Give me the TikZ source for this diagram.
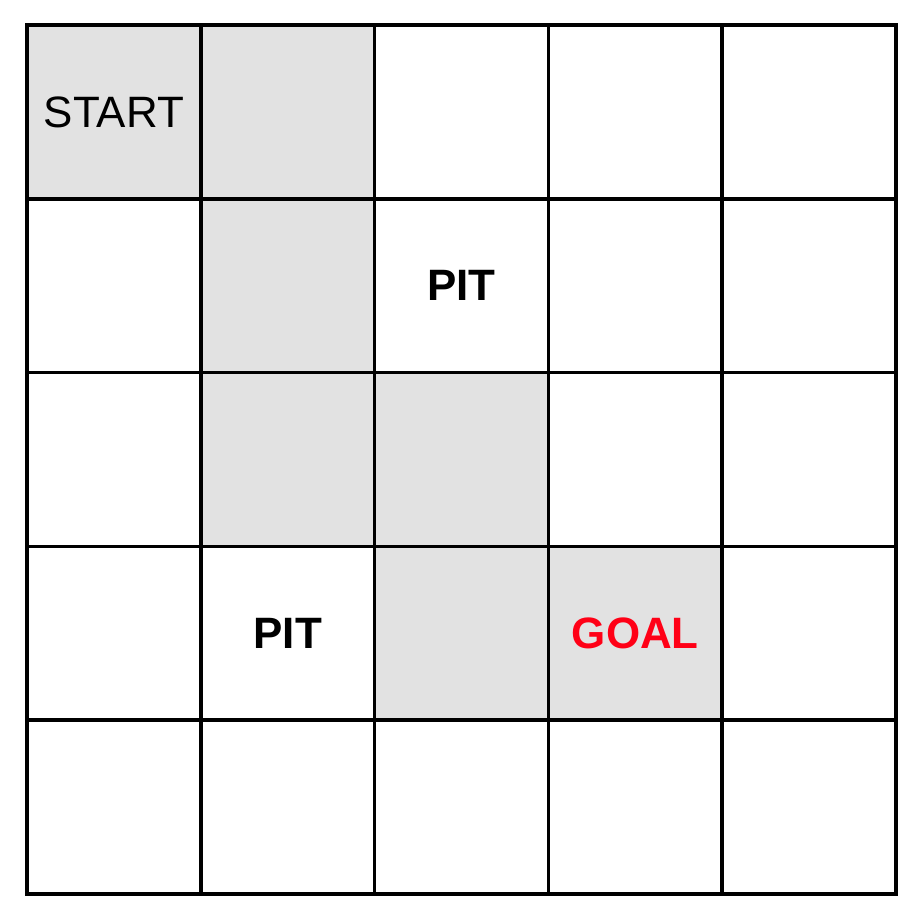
\documentclass[tikz,border=0pt]{standalone}
\usepackage{fontspec}
\setmainfont{Liberation Sans}
\definecolor{pathgray}{HTML}{E2E2E2}
\definecolor{goalred}{HTML}{FF0016}
\begin{document}
\begin{tikzpicture}[
  cell/.style={draw, line width=1pt, minimum size=1.738cm, inner sep=0pt},
  shade/.style={fill=pathgray, minimum size=1.738cm, inner sep=0pt},
  lbl/.style={font=\fontsize{12.5}{15}\selectfont},
  lblb/.style={font=\fontsize{12.5}{15}\selectfont\bfseries}
]
  \useasboundingbox (0,0) rectangle (9.24,-9.18);

  %-- Chemin
  \foreach \r/\c in {0/0,0/1,1/1,2/1,2/2,3/2,3/3}
    \node[shade] (s\r\c) at ({0.27+1.738*(\c+0.5)}, {-0.25-1.738*(\r+0.5)}) {};

  %-- Grille
  \foreach \r in {0,...,4}
    \foreach \c in {0,...,4}
      \node[cell] (c\r\c) at ({0.27+1.738*(\c+0.5)}, {-0.25-1.738*(\r+0.5)}) {};

  %-- Textes
  \node[lbl]                (start) at (c00) {START};
  \node[lblb]               (pitA)  at (c12) {PIT};
  \node[lblb]               (pitB)  at (c31) {PIT};
  \node[lblb, text=goalred] (goal)  at (c33) {GOAL};
\end{tikzpicture}
\end{document}
